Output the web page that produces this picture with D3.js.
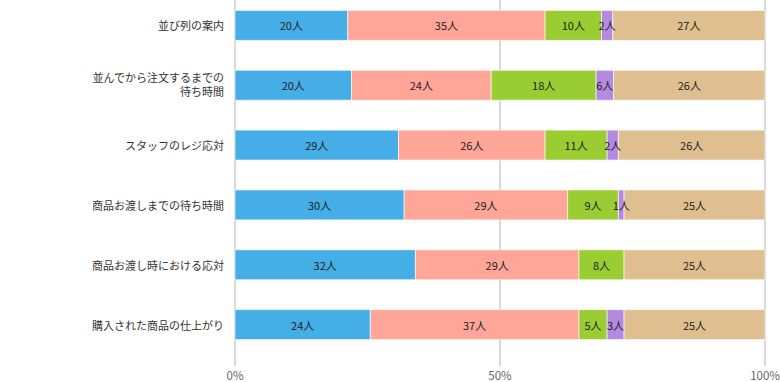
<!DOCTYPE html>
<html><head><meta charset="utf-8">
<script src="https://cdn.jsdelivr.net/npm/d3@7"></script>
<style>body{margin:0;background:#fff}svg{display:block}text{font-family:"Noto Sans CJK JP","Noto Sans",sans-serif}</style>
</head><body><svg id="c" width="780" height="382"></svg>
<script>
const categories = [
  ["並び列の案内"],
  ["並んでから注文するまでの","待ち時間"],
  ["スタッフのレジ応対"],
  ["商品お渡しまでの待ち時間"],
  ["商品お渡し時における応対"],
  ["購入された商品の仕上がり"]
];
// bar widths as drawn in the reference
const series1 = [20, 20, 29, 30, 32, 24];
const series2 = [35, 24, 26, 29, 29, 37];
const series3 = [10, 18, 11, 9, 8, 5];
const series4 = [2, 3, 2, 1, 0, 3];
const series5 = [27, 26, 26, 25, 25, 25];
// value labels as printed in the reference
const series4Labels = [2, 6, 2, 1, 0, 3];
const colors = ["#45aee6", "#ffa698", "#9acd32", "#b38ae0", "#dfbf8f"];
const tickValues = [0, 0.5, 1];
const unit = "人";

const svg = d3.select("#c");
const m = {left: 235, right: 15};
const W = 780;
const x = d3.scaleLinear().domain([0, 1]).range([m.left, W - m.right]);
const y = d3.scaleBand().domain(d3.range(categories.length)).range([-4.5, 354.5]).paddingInner(0.5).paddingOuter(0.25);

// grid
svg.append("g").selectAll("line").data(tickValues).join("line")
  .attr("x1", d => x(d)).attr("x2", d => x(d)).attr("y1", 0).attr("y2", 366)
  .attr("stroke", "#d9d9d9").attr("stroke-width", 2);

const allSeries = [series1, series2, series3, series4, series5];
const allLabels = [series1, series2, series3, series4Labels, series5];
const rows = categories.map((c, i) => {
  const vals = allSeries.map(s => s[i]);
  const tot = d3.sum(vals);
  let acc = 0;
  return vals.map((v, k) => { const s = acc; acc += v; return {i, k, v, lab: allLabels[k][i], x0: s / tot, x1: acc / tot}; });
});
const segs = rows.flat();

svg.append("g").selectAll("rect").data(segs.filter(d => d.v > 0)).join("rect")
  .attr("x", d => x(d.x0)).attr("width", d => x(d.x1) - x(d.x0))
  .attr("y", d => y(d.i)).attr("height", y.bandwidth())
  .attr("fill", d => colors[d.k])
  .attr("stroke", "rgba(255,255,255,0.6)").attr("stroke-width", 1);

svg.append("g").selectAll("text").data(segs.filter(d => d.v > 0)).join("text")
  .attr("x", d => (x(d.x0) + x(d.x1)) / 2).attr("y", d => y(d.i) + y.bandwidth() / 2)
  .attr("text-anchor", "middle").attr("dominant-baseline", "central")
  .attr("font-size", 11).attr("fill", "#222")
  .text(d => d.lab + unit);

// category labels
const lab = svg.append("g").selectAll("text").data(categories).join("text")
  .attr("text-anchor", "end").attr("font-size", 11).attr("fill", "#333")
  .attr("transform", (d, i) => `translate(224,${y(i) + y.bandwidth() / 2})`);
lab.each(function(d) {
  const t = d3.select(this);
  const n = d.length;
  d.forEach((line, j) => {
    t.append("tspan").attr("x", 0).attr("y", n > 1 ? (j === 0 ? -8 : 6) : 0)
      .attr("dominant-baseline", "central").text(line);
  });
});

// x axis labels
svg.append("g").selectAll("text").data(tickValues).join("text")
  .attr("x", d => x(d)).attr("y", 375).attr("text-anchor", "middle")
  .attr("dominant-baseline", "central").attr("font-size", 11.5).attr("fill", "#666")
  .text(d => d3.format(".0%")(d));
</script></body></html>
